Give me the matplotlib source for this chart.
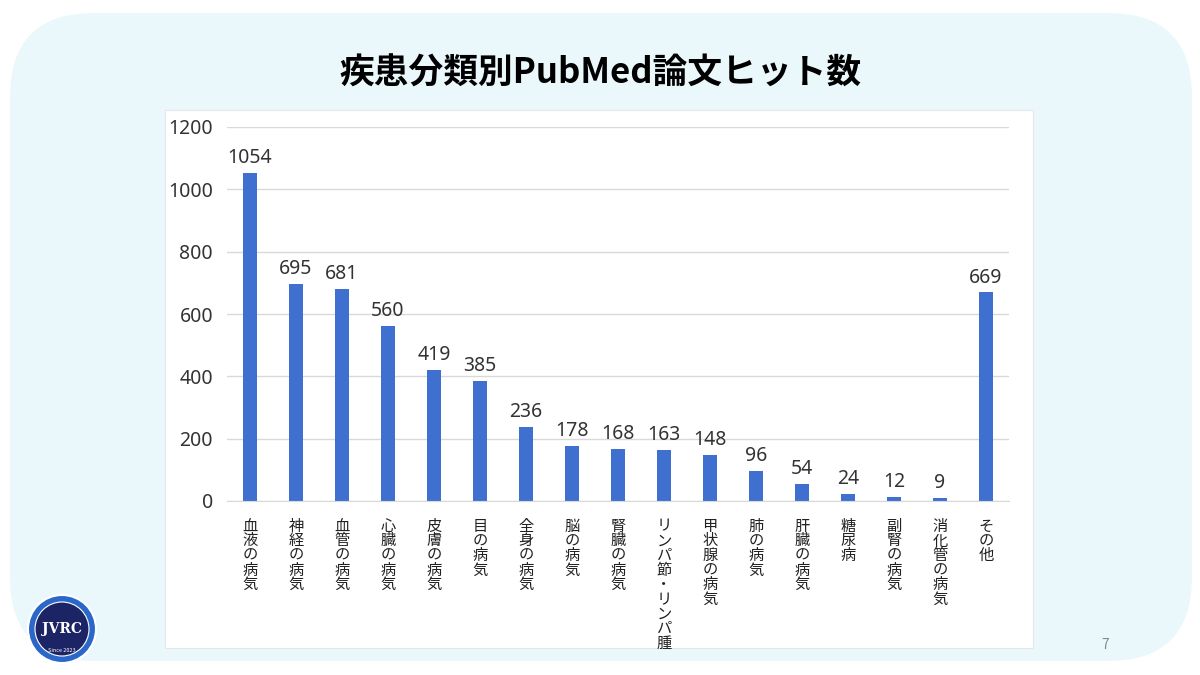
#疾患分類別PubMed論文ヒット数
import matplotlib
matplotlib.use("Agg")
from matplotlib import pyplot as plt
from matplotlib.patches import FancyBboxPatch, Circle, Rectangle

plt.rcParams['font.family'] = ['Noto Sans CJK JP', 'DejaVu Sans']

categories = ['血液の病気', '神経の病気', '血管の病気', '心臓の病気', '皮膚の病気', '目の病気',
              '全身の病気', '脳の病気', '腎臓の病気', 'リンパ節・リンパ腫', '甲状腺の病気',
              '肺の病気', '肝臓の病気', '糖尿病', '副腎の病気', '消化管の病気', 'その他']
hits = [1054, 695, 681, 560, 419, 385, 236, 178, 168, 163, 148, 96, 54, 24, 12, 9, 669]
yticks = [0, 200, 400, 600, 800, 1000, 1200]

W, H = 1200, 675
fig = plt.figure(figsize=(12, 6.75), dpi=100)
fig.patch.set_facecolor('white')

# スライド背景（角丸の水色）
bg = FancyBboxPatch((10 / W, 14 / H), 1182 / W, 648 / H,
                    boxstyle="round,pad=0,rounding_size=0.07",
                    transform=fig.transFigure, facecolor='#eaf8fc', edgecolor='none',
                    mutation_aspect=W / H, zorder=-3)
fig.patches.append(bg)

# グラフの白い枠
box = Rectangle((165 / W, (H - 648) / H), 868 / W, 538 / H, transform=fig.transFigure,
                facecolor='white', edgecolor='#e4e8ea', linewidth=0.8, zorder=-2)
fig.patches.append(box)

fig.text(600 / W, 1 - 73 / H, '疾患分類別PubMed論文ヒット数', ha='center', va='center',
         fontsize=25, fontweight='bold', color='black')

ax = fig.add_axes([227 / W, 174 / H, 782 / W, 374 / H])
ax.set_facecolor('none')
x = range(len(categories))
ax.bar(x, hits, width=0.3, color='#3f6fcf', zorder=3)
for i in x:
    ax.text(i, hits[i] + 16, str(hits[i]), ha='center', va='bottom', fontsize=14,
            color='#333333', family='Noto Sans')

ax.set_xlim(-0.5, len(categories) - 0.5)
ax.set_ylim(0, 1200)
ax.set_yticks(yticks)
ax.set_yticklabels([str(v) for v in yticks], family='Noto Sans')
ax.tick_params(axis='y', length=0, pad=10, labelsize=14, labelcolor='#333333')
ax.grid(axis='y', color='#d9d9d9', linewidth=1, zorder=0)
ax.set_xticks(list(x))
ax.set_xticklabels(['\n'.join(c) for c in categories], fontsize=11, color='#222222',
                   va='top', linespacing=0.82)
ax.tick_params(axis='x', length=0, pad=12)
for s in ['top', 'right', 'left']:
    ax.spines[s].set_visible(False)
ax.spines['bottom'].set_color('#d9d9d9')
ax.spines['bottom'].set_zorder(4)

# ロゴ
cx, cy, r = 62 / W, 1 - 629 / H, 34
logo_ring = Circle((62, H - 629), r, transform=None, facecolor='#2a67c9', edgecolor='white', lw=1.5)
fig.patches.append(logo_ring)
logo_in = Circle((62, H - 629), r - 7, transform=None, facecolor='#1c2466', edgecolor='white', lw=0.8)
fig.patches.append(logo_in)
fig.text(cx, cy, 'JVRC', ha='center', va='center', fontsize=10, fontweight='bold',
         color='white', family='DejaVu Serif')
fig.text(cx, cy - 22 / H, 'Since 2023', ha='center', va='center', fontsize=4, color='white')

fig.text(1105 / W, 1 - 645 / H, '7', ha='center', va='center', fontsize=10, color='#888888')

plt.savefig('out.png', dpi=100)
